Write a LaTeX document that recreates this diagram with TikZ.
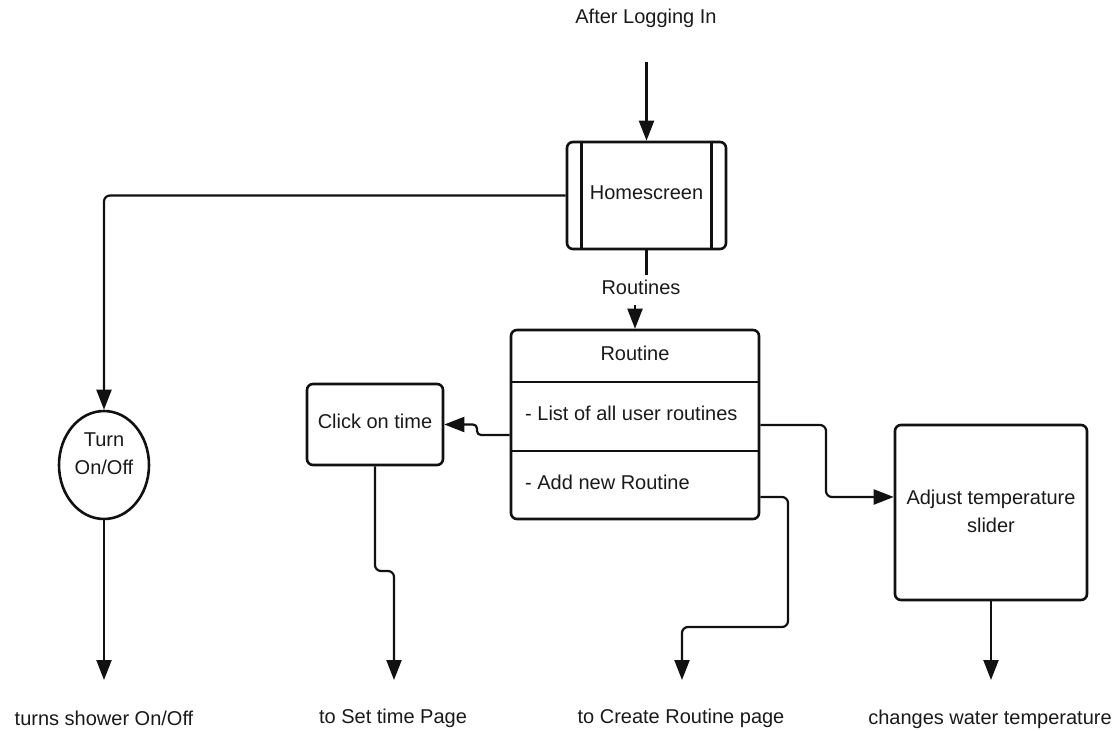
\documentclass[tikz,border=0pt]{standalone}
\usepackage{fontspec}
\setmainfont{Liberation Sans}
\usetikzlibrary{arrows.meta,shapes.geometric}
\definecolor{ln}{HTML}{111111}
\definecolor{txt}{HTML}{1A1A1A}
\begin{document}
\begin{tikzpicture}[x=1pt,y=-1pt,
  every node/.style={font=\fontsize{20pt}{28pt}\selectfont, text=txt},
  box/.style={draw=ln, line width=2.6pt, rounded corners=6pt, inner sep=0pt},
  divider/.style={draw=ln, line width=2.6pt},
  conn/.style={draw=ln, line width=2.2pt, rounded corners=6pt},
  arr/.style={conn, -{Triangle[length=20pt,width=15pt]}},
  lbl/.style={inner sep=0pt, align=center}]
\path[use as bounding box] (0,0) rectangle (1120,731);

% entry label
\node[lbl] (after) at (646,18) {After Logging In};
\coordinate (afterend) at (646.5,62);

% homescreen (predefined-process box)
\node[box, minimum width=159pt, minimum height=107pt] (home) at (646.5,195.5) {};
\draw[divider] ([xshift=16pt]home.north west) -- ([xshift=16pt]home.south west);
\draw[divider] ([xshift=-16pt]home.north east) -- ([xshift=-16pt]home.south east);
\node[lbl] (hometext) at (646.5,193) {Homescreen};

% routines label on the connector
\node[lbl] (rlabel) at (641,287) {Routines};
\coordinate (rA) at (646.5,275);
\coordinate (rB) at (635,305);

% routine list box
\node[box, minimum width=248pt, minimum height=189pt] (routine) at (635,424.5) {};
\coordinate (d1) at (0,382);
\coordinate (d2) at (0,451);
\draw[divider] (routine.west |- d1) -- (routine.east |- d1);
\draw[divider] (routine.west |- d2) -- (routine.east |- d2);
\node[lbl] (rtitle) at (635,353) {Routine};
\node[lbl, anchor=west] (rlist) at (525,413) {- List of all user routines};
\node[lbl, anchor=west] (radd) at (525,482) {- Add new Routine};

% click on time
\node[box, minimum width=136pt, minimum height=81pt] (click) at (375,424.5) {};
\node[lbl] (clicktext) at (375,421) {Click on time};

% turn on/off
\node[draw=ln, line width=2.6pt, ellipse, minimum width=90pt, minimum height=108pt, inner sep=0pt] (turn) at (104,465) {};
\node[lbl] (turntext) at (104,454) {Turn\\On/Off};

% adjust temperature
\node[box, minimum width=192pt, minimum height=175pt] (adjust) at (991,512.5) {};
\node[lbl] (adjusttext) at (991,511) {Adjust temperature\\slider};

% outcome labels
\node[lbl] (o1) at (104,718) {turns shower On/Off};
\node[lbl] (o2) at (393,718) {to Set time Page};
\node[lbl] (o3) at (681,718) {to Create Routine page};
\node[lbl] (o4) at (990,719) {changes water temperature};
\coordinate (e1) at (104,680);
\coordinate (e2) at (394,680);
\coordinate (e3) at (682,680);
\coordinate (e4) at (991,680);

% bend points
\coordinate (j1) at (477,435);
\coordinate (j2) at (477,424.5);
\coordinate (k1) at (375,571);
\coordinate (k2) at (394,571);
\coordinate (m1) at (826,425);
\coordinate (m2) at (826,497);
\coordinate (n1) at (788,497);
\coordinate (n2) at (788,627);
\coordinate (n3) at (682,627);

% connectors
\draw[arr] (afterend) -- (home.north);
\draw[arr] (home.west) -- (turn.north |- home.west) -- (turn.north);
\draw[arr] (turn.south) -- (e1);
\draw[conn] (home.south) -- (rA);
\draw[arr] (rB) -- (routine.north);
\draw[arr, rounded corners=4pt] (routine.west |- j1) -- (j1) -- (j2) -- (click.east);
\draw[arr] (click.south) -- (k1) -- (k2) -- (e2);
\draw[arr] (routine.east |- m1) -- (m1) -- (m2) -- (adjust.west |- m2);
\draw[arr] (routine.east |- n1) -- (n1) -- (n2) -- (n3) -- (e3);
\draw[arr] (adjust.south) -- (e4);
\end{tikzpicture}
\end{document}
